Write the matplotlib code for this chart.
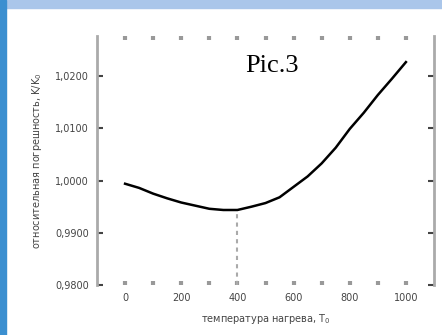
import matplotlib
matplotlib.use("Agg")
import matplotlib.pyplot as plt
from matplotlib.patches import Rectangle

# data
temp = [0, 50, 100, 150, 200, 250, 300, 350, 400, 450, 500,
        550, 600, 650, 700, 750, 800, 850, 900, 950, 1000]
ratio = [0.9994, 0.9986, 0.9975, 0.9966, 0.9958, 0.9952, 0.9946, 0.99437, 0.99437, 0.9950, 0.9957,
         0.9968, 0.9988, 1.0008, 1.0033, 1.0063, 1.0099, 1.0130, 1.0164, 1.0195, 1.0227]
t_min = 400
x_ticks = [0, 200, 400, 600, 800, 1000]
y_ticks = [0.98, 0.99, 1.00, 1.01, 1.02]
y_labels = ["0,9800", "0,9900", "1,0000", "1,0100", "1,0200"]

fig = plt.figure(figsize=(4.42, 3.35), dpi=100)
fig.patch.set_facecolor("white")
# slide frame: blue strips on top and left
fig.patches.append(Rectangle((0, 1 - 8 / 335), 1, 8 / 335, transform=fig.transFigure,
                             color="#aac6ea", zorder=0))
fig.patches.append(Rectangle((0, 0), 6 / 442, 1, transform=fig.transFigure,
                             color="#3b8fd0", zorder=0))

ax = fig.add_axes([97 / 442, 1 - 285 / 335, (434 - 97) / 442, (285 - 36) / 335])
ax.plot(temp, ratio, color="black", lw=1.8)
y_at_min = ratio[temp.index(t_min)]
ax.plot([t_min, t_min], [0.98, y_at_min], color="#aaaaaa", lw=1.5, ls=(0, (2, 2)))

ax.set_xlim(-100, 1100)
ax.set_ylim(0.98, 1.0277)
ax.set_xticks(x_ticks)
ax.set_xticks(range(0, 1001, 100), minor=True)
ax.set_yticks(y_ticks)
ax.set_yticklabels(y_labels)
ax.tick_params(axis="both", direction="in", colors="#444444", labelsize=7, length=4, width=1.5,
               top=True, right=True)
ax.tick_params(axis="x", which="both", direction="in", color="#999999", length=3, width=3,
               top=True, bottom=True, pad=6)
ax.tick_params(axis="y", pad=6)
for side in ("top", "bottom"):
    ax.spines[side].set_visible(False)
for side in ("left", "right"):
    ax.spines[side].set_color("#aaaaaa")
    ax.spines[side].set_linewidth(2)

ax.set_xlabel("температура нагрева, T$_0$", fontsize=7, color="#444444", labelpad=6)
ax.set_ylabel("относительная погрешность, K/K$_0$", fontsize=7, color="#444444", labelpad=8)
ax.text(0.52, 0.88, "Pic.3", transform=ax.transAxes, family="Liberation Serif",
        fontsize=19, ha="center", va="center")

fig.savefig("out.png", dpi=100)
